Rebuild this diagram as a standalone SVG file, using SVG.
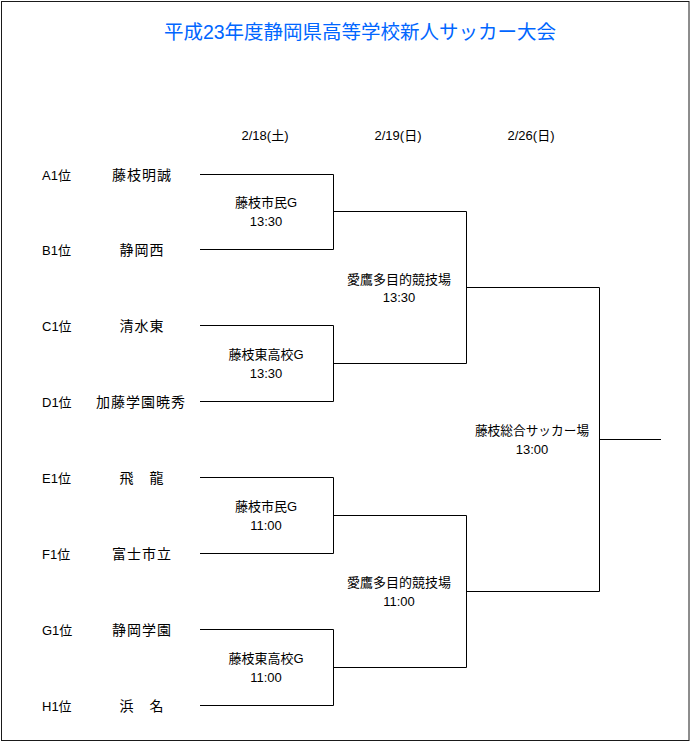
<svg xmlns="http://www.w3.org/2000/svg" width="690" height="741" viewBox="0 0 690 741">
<style>
text{font-family:"Liberation Sans","Noto Sans CJK JP",sans-serif;font-size:13px;fill:#000}
.title{font-size:19.5px;fill:#0066FF;text-anchor:middle}
.date{text-anchor:middle}
.seed{text-anchor:start}
.team{font-size:14px;letter-spacing:1px;text-anchor:middle}
.venue{text-anchor:middle}
.br{fill:none;stroke:#000;stroke-width:1}
</style>
<rect x="1.5" y="1.5" width="687.5" height="739" fill="#fff" stroke="#1a1a1a" stroke-width="1"/>
<text class="title" x="360" y="39">平成23年度静岡県高等学校新人サッカー大会</text>
<g id="dates">
<text class="date" x="265" y="140">2/18(土)</text>
<text class="date" x="398" y="140">2/19(日)</text>
<text class="date" x="531" y="140">2/26(日)</text>
</g>
<g id="teamA"><text class="seed" x="42" y="180">A1位</text><text class="team" x="142" y="180">藤枝明誠</text></g>
<g id="teamB"><text class="seed" x="42" y="255">B1位</text><text class="team" x="142" y="255">静岡西</text></g>
<g id="teamC"><text class="seed" x="42" y="331">C1位</text><text class="team" x="142" y="331">清水東</text></g>
<g id="teamD"><text class="seed" x="42" y="407">D1位</text><text class="team" x="141" y="407">加藤学園暁秀</text></g>
<g id="teamE"><text class="seed" x="42" y="483">E1位</text><text class="team" x="142" y="483">飛　龍</text></g>
<g id="teamF"><text class="seed" x="42" y="559">F1位</text><text class="team" x="142" y="559">富士市立</text></g>
<g id="teamG"><text class="seed" x="42" y="635">G1位</text><text class="team" x="142" y="635">静岡学園</text></g>
<g id="teamH"><text class="seed" x="42" y="711">H1位</text><text class="team" x="142" y="711">浜　名</text></g>
<g id="match1"><text class="venue" x="266" y="207">藤枝市民G</text><text class="venue" x="266" y="226">13:30</text></g>
<g id="match2"><text class="venue" x="266" y="359">藤枝東高校G</text><text class="venue" x="266" y="378">13:30</text></g>
<g id="match3"><text class="venue" x="266" y="511">藤枝市民G</text><text class="venue" x="266" y="530">11:00</text></g>
<g id="match4"><text class="venue" x="266" y="663">藤枝東高校G</text><text class="venue" x="266" y="682">11:00</text></g>
<g id="semi1"><text class="venue" x="399" y="284">愛鷹多目的競技場</text><text class="venue" x="399" y="302">13:30</text></g>
<g id="semi2"><text class="venue" x="399" y="587">愛鷹多目的競技場</text><text class="venue" x="399" y="606">11:00</text></g>
<g id="final"><text class="venue" x="532" y="435" style="font-size:12.7px">藤枝総合サッカー場</text><text class="venue" x="532" y="454">13:00</text></g>
<g id="connectors">
<path class="br" d="M200 174.5H333.5V249.5H200M333.5 211.5H466.5"/>
<path class="br" d="M200 325.5H333.5V401.5H200M333.5 363.5H466.5"/>
<path class="br" d="M200 477.5H333.5V553.5H200M333.5 515.5H466.5"/>
<path class="br" d="M200 629.5H333.5V705.5H200M333.5 667.5H466.5"/>
<path class="br" d="M466.5 211.5V363.5M466.5 287.5H599.5"/>
<path class="br" d="M466.5 515.5V667.5M466.5 591.5H599.5"/>
<path class="br" d="M599.5 287.5V591.5M599.5 439.5H661"/>
</g>
</svg>
